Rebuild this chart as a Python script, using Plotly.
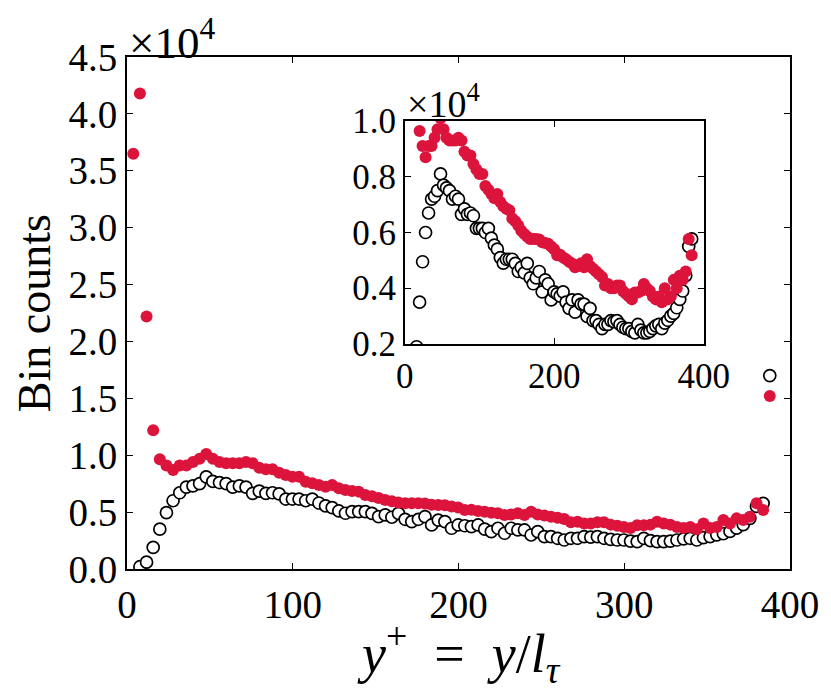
import plotly.graph_objects as go

# bin centres (y+)
x_bins = [3.8 + 4 * i for i in range(97)]

# red (filled) series, units of 1e4
red_counts = [3.65, 4.18, 2.22, 1.22, 0.964, 0.91, 0.87, 0.91, 0.91, 0.94,
              0.97, 1.01, 0.97, 0.94, 0.93, 0.93, 0.93, 0.94, 0.93, 0.89,
              0.876, 0.876, 0.846, 0.826, 0.81, 0.81, 0.767, 0.753, 0.738, 0.723,
              0.738, 0.709, 0.694, 0.685, 0.68, 0.65, 0.64, 0.625, 0.606, 0.595,
              0.585, 0.577, 0.577, 0.577, 0.575, 0.565, 0.562, 0.56, 0.55, 0.54,
              0.518, 0.52, 0.51, 0.504, 0.495, 0.489, 0.475, 0.48, 0.49, 0.475,
              0.504, 0.48, 0.47, 0.46, 0.45, 0.44, 0.41, 0.415, 0.40, 0.40,
              0.41, 0.41, 0.39, 0.38, 0.37, 0.36, 0.385, 0.385, 0.39, 0.415,
              0.40, 0.39, 0.37, 0.36, 0.37, 0.35, 0.40, 0.36, 0.37, 0.43,
              0.40, 0.445, 0.43, 0.46, 0.577, 0.518, 1.52]

# black (open) series, units of 1e4
black_counts = [None, 0.02, 0.06, 0.19, 0.35, 0.495, 0.60, 0.67, 0.72, 0.73,
                0.75, 0.81, 0.77, 0.76, 0.75, 0.72, 0.73, 0.72, 0.665, 0.685,
                0.665, 0.67, 0.66, 0.615, 0.615, 0.615, 0.60, 0.615, 0.58, 0.555,
                0.54, 0.51, 0.49, 0.504, 0.504, 0.504, 0.489, 0.46, 0.475, 0.455,
                0.489, 0.437, 0.416, 0.437, 0.46, 0.387, 0.43, 0.416, 0.358, 0.387,
                0.38, 0.372, 0.387, 0.35, 0.328, 0.358, 0.314, 0.358, 0.343, 0.343,
                0.299, 0.328, 0.284, 0.284, 0.27, 0.255, 0.27, 0.27, 0.284, 0.28,
                0.284, 0.27, 0.26, 0.255, 0.255, 0.245, 0.24, 0.27, 0.25, 0.24,
                0.24, 0.245, 0.255, 0.265, 0.27, 0.255, 0.275, 0.285, 0.30, 0.31,
                0.33, 0.36, 0.39, 0.445, 0.55, 0.577, 1.70]

main_yticks = [0.0, 0.5, 1.0, 1.5, 2.0, 2.5, 3.0, 3.5, 4.0, 4.5]
main_xticks = [0, 100, 200, 300, 400]
inset_yticks = [0.2, 0.4, 0.6, 0.8, 1.0]
inset_xticks = [0, 200, 400]

RED = "#DC143C"
FONT = "Liberation Serif"

fig = go.Figure()

for xa, ya in (("x", "y"), ("x2", "y2")):
    fig.add_trace(go.Scatter(
        x=x_bins, y=black_counts, mode="markers", xaxis=xa, yaxis=ya,
        marker=dict(size=12, color="white", line=dict(color="black", width=1.7)),
        showlegend=False))
    fig.add_trace(go.Scatter(
        x=x_bins, y=red_counts, mode="markers", xaxis=xa, yaxis=ya,
        marker=dict(size=12, color=RED, line=dict(width=0)),
        showlegend=False))

axis_common = dict(showline=True, linecolor="black", linewidth=1.8, mirror="ticks",
                   ticks="inside", ticklen=6, tickwidth=1, tickcolor="black",
                   showgrid=False, zeroline=False)

# page body adds an 8px offset, compensate in size/margins
fig.update_layout(
    width=823, height=682,
    margin=dict(l=119, r=41, t=49, b=121),
    paper_bgcolor="white", plot_bgcolor="white",
    font=dict(family=FONT, color="black"),
    xaxis=dict(range=[0, 400], tickvals=main_xticks, ticktext=[str(v) for v in main_xticks],
               tickfont=dict(size=39), domain=[0, 1], **axis_common),
    yaxis=dict(range=[0, 4.5], tickvals=main_yticks, ticktext=[f"{v:.1f}" for v in main_yticks],
               tickfont=dict(size=39), domain=[0, 1], **axis_common),
    xaxis2=dict(range=[0, 400], tickvals=inset_xticks, ticktext=[str(v) for v in inset_xticks],
                tickfont=dict(size=35), domain=[0.419, 0.870], anchor="y2", **axis_common),
    yaxis2=dict(range=[0.2, 1.0], tickvals=inset_yticks, ticktext=[f"{v:.1f}" for v in inset_yticks],
                tickfont=dict(size=35), domain=[0.4395, 0.875], anchor="x2", **axis_common),
)

fig.add_annotation(text="Bin counts", xref="paper", yref="paper", x=-0.14, y=0.5,
                   textangle=-90, showarrow=False, font=dict(size=46, family=FONT),
                   xanchor="center", yanchor="middle")
fig.add_annotation(text="<i>y</i><sup>+</sup>  =  <i>y</i>/<i>l</i><sub><i>τ</i></sub>",
                   xref="paper", yref="paper", x=0.5, y=-0.165, showarrow=False,
                   font=dict(size=54, family=FONT), xanchor="center", yanchor="middle")
fig.add_annotation(text="×10<sup>4</sup>", xref="paper", yref="paper", x=0.0, y=1.0,
                   showarrow=False, font=dict(size=45, family=FONT),
                   xanchor="left", yanchor="bottom", yshift=-13)
fig.add_annotation(text="×10<sup>4</sup>", xref="x2 domain", yref="y2 domain", x=0.0, y=1.0,
                   showarrow=False, font=dict(size=38, family=FONT),
                   xanchor="left", yanchor="bottom", yshift=-6)

fig.write_html("out.html")
